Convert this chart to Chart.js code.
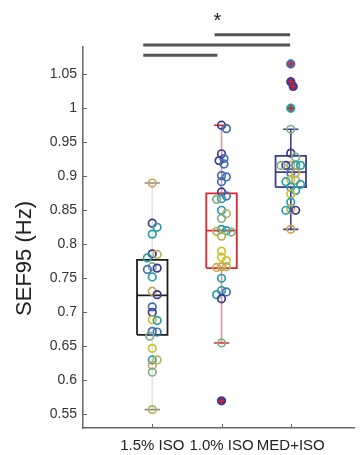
<!DOCTYPE html>
<html>
<head>
<meta charset="utf-8">
<script src="https://cdn.jsdelivr.net/npm/chart.js@4.4.1/dist/chart.umd.min.js"></script>
<style>
  body { margin: 0; background: #fff; }
  canvas { display: block; }
</style>
</head>
<body>
<canvas id="sefChart" width="360" height="455"></canvas>
<script>
const groups = ['1.5% ISO', '1.0% ISO', 'MED+ISO'];
const yTicks = [0.55, 0.6, 0.65, 0.7, 0.75, 0.8, 0.85, 0.9, 0.95, 1, 1.05];

// SEF95 per animal, one list per condition
const iso15 = [0.89, 0.831, 0.825, 0.815, 0.786, 0.785, 0.78, 0.767, 0.765, 0.763, 0.752,
  0.731, 0.726, 0.708, 0.70, 0.689, 0.688, 0.672, 0.671, 0.665, 0.647, 0.63, 0.63, 0.622, 0.612, 0.557];
const iso10 = [0.975, 0.97, 0.933, 0.926, 0.923, 0.918, 0.901, 0.899, 0.892, 0.877, 0.871, 0.867,
  0.866, 0.85, 0.845, 0.838, 0.822, 0.82, 0.819, 0.818, 0.812, 0.79, 0.781, 0.776, 0.767, 0.767,
  0.766, 0.75, 0.732, 0.73, 0.726, 0.72, 0.655, 0.57];
const medIso = [1.065, 1.039, 1.032, 1.0, 0.969, 0.934, 0.928, 0.916, 0.916, 0.916, 0.916, 0.916,
  0.905, 0.905, 0.895, 0.894, 0.892, 0.888, 0.884, 0.879, 0.874, 0.862, 0.852, 0.85, 0.85, 0.822];

// box statistics per condition
const boxQ1 = [0.667, 0.765, 0.884];
const boxMedian = [0.725, 0.82, 0.906];
const boxQ3 = [0.777, 0.875, 0.93];
const whiskerLow = [0.557, 0.655, 0.822];
const whiskerHigh = [0.89, 0.975, 0.969];

// colour key per point (same order as the values)
const palette = {
  n: '#3d3a8e', b: '#3f71b2', t: '#2b9fa7', g: '#80ac88',
  o: '#b4b45c', y: '#d0c12e', d: '#cfa552'
};
const iso15Keys = 'dnttnotgnbtdnbnytbbgytodgo';
const iso10Keys = 'nbnbnbbbbnbtgtogttogoyyydodttbtngn';
const medIsoKeys = 'bnntgngdtntgbdyottttytdntd';

const boxColors = ['#1e1e1e', '#e0242c', '#3c3f8a'];
const whiskerColors = ['#e2e2e2', '#d29c9c', '#3c3f8a'];
const capColors = ['#8c8c8c', '#e0242c', '#3c3f8a'];

const X_PX = 71, Y_PX = 680;      // approx. pixels per unit on each axis
const HALF_BOX = 0.22, HALF_CAP = 0.11;

// simple beeswarm so the circles don't pile up
function swarm(values, center) {
  const placed = [];
  return values.map(v => {
    const py = v * Y_PX;
    let off = 0;
    for (let k = 0; k < 30; k++) {
      off = (k % 2 ? 1 : -1) * Math.ceil(k / 2) * 2.5;
      if (placed.every(p => Math.hypot(p.x - off, p.y - py) >= 5)) break;
    }
    placed.push({ x: off, y: py });
    return { x: center + off / X_PX, y: v };
  });
}

const series = [iso15, iso10, medIso];
const keys = [iso15Keys, iso10Keys, medIsoKeys];

const pointSets = [], crossSets = [], lineSets = [];
series.forEach((vals, i) => {
  const cx = i + 1;
  const pts = swarm(vals, cx);
  const cols = vals.map((v, j) => palette[keys[i][j]] || palette.t);
  const isOut = vals.map(v => v > whiskerHigh[i] + 1e-9 || v < whiskerLow[i] - 1e-9);
  pointSets.push({
    data: pts,
    pointRadius: 3.8,
    pointBorderWidth: 1.7,
    pointBorderColor: cols,
    pointBackgroundColor: cols.map((c, j) => isOut[j] ? c : 'rgba(255,255,255,0)'),
    pointHoverRadius: 3.8
  });
  const outPts = pts.filter((p, j) => isOut[j]);
  if (outPts.length) {
    crossSets.push({
      data: outPts,
      pointStyle: 'cross',
      pointRadius: 3.2,
      pointBorderWidth: 1.3,
      pointBorderColor: '#ee1c24',
      pointBackgroundColor: '#ee1c24'
    });
  }
  const line = (data, color, width) => ({
    data, showLine: true, spanGaps: false, borderColor: color, borderWidth: width,
    pointRadius: 0, pointHoverRadius: 0
  });
  // box + median
  lineSets.push(line([
    { x: cx - HALF_BOX, y: boxQ1[i] }, { x: cx + HALF_BOX, y: boxQ1[i] },
    { x: cx + HALF_BOX, y: boxQ3[i] }, { x: cx - HALF_BOX, y: boxQ3[i] },
    { x: cx - HALF_BOX, y: boxQ1[i] }, { x: cx, y: null },
    { x: cx - HALF_BOX, y: boxMedian[i] }, { x: cx + HALF_BOX, y: boxMedian[i] }
  ], boxColors[i], 1.8));
  // caps
  lineSets.push(line([
    { x: cx - HALF_CAP, y: whiskerLow[i] }, { x: cx + HALF_CAP, y: whiskerLow[i] }, { x: cx, y: null },
    { x: cx - HALF_CAP, y: whiskerHigh[i] }, { x: cx + HALF_CAP, y: whiskerHigh[i] }
  ], capColors[i], 1.6));
  // whiskers
  lineSets.push(line([
    { x: cx, y: whiskerLow[i] }, { x: cx, y: boxQ1[i] }, { x: cx, y: null },
    { x: cx, y: boxQ3[i] }, { x: cx, y: whiskerHigh[i] }
  ], whiskerColors[i], 1.6));
});

const FONT = 'Liberation Sans, Arial, sans-serif';

// inward tick marks, significance bars and the y title
const extras = {
  id: 'extras',
  afterDraw(chart) {
    const { ctx, chartArea: a, scales: { x, y } } = chart;
    ctx.save();
    ctx.strokeStyle = '#666';
    ctx.lineWidth = 1;
    y.ticks.forEach(t => {
      const py = Math.round(y.getPixelForValue(t.value)) + 0.5;
      ctx.beginPath(); ctx.moveTo(a.left, py); ctx.lineTo(a.left + 4, py); ctx.stroke();
    });
    x.ticks.forEach(t => {
      const px = Math.round(x.getPixelForValue(t.value)) + 0.5;
      ctx.beginPath(); ctx.moveTo(px, a.bottom); ctx.lineTo(px, a.bottom - 4); ctx.stroke();
    });

    // significance brackets
    ctx.strokeStyle = '#555';
    ctx.lineWidth = 3;
    const bars = [[0.87, 1.94, 1.078], [0.87, 2.99, 1.093], [1.9, 2.99, 1.108]];
    bars.forEach(([x0, x1, yv]) => {
      const py = y.getPixelForValue(yv);
      ctx.beginPath(); ctx.moveTo(x.getPixelForValue(x0), py); ctx.lineTo(x.getPixelForValue(x1), py); ctx.stroke();
    });
    ctx.fillStyle = '#222';
    ctx.font = '20px ' + FONT;
    ctx.textAlign = 'center';
    ctx.textBaseline = 'middle';
    ctx.fillText('*', x.getPixelForValue(1.94), y.getPixelForValue(1.128));

    // y axis title
    ctx.translate(25, (a.top + a.bottom) / 2 + 21);
    ctx.rotate(-Math.PI / 2);
    ctx.fillStyle = '#222';
    ctx.font = '22px ' + FONT;
    ctx.fillText('SEF95 (Hz)', 0, 0);
    ctx.restore();
  }
};

new Chart(document.getElementById('sefChart'), {
  type: 'scatter',
  data: { datasets: [...crossSets, ...pointSets, ...lineSets] },
  options: {
    responsive: false,
    animation: false,
    devicePixelRatio: 1,
    layout: { padding: { top: 47, left: 0, right: 0, bottom: 0 } },
    plugins: { legend: { display: false }, tooltip: { enabled: false } },
    scales: {
      x: {
        type: 'linear',
        min: 0,
        max: 3.92,
        afterBuildTicks: s => { s.ticks = groups.map((g, i) => ({ value: i + 1 })); },
        afterFit: s => { s.height = 27; },
        grid: { drawOnChartArea: false, drawTicks: false },
        border: { display: true, color: '#666', width: 1.5 },
        ticks: {
          padding: 9,
          color: '#222',
          font: { family: FONT, size: 15 },
          maxRotation: 0,
          autoSkip: false,
          callback: v => groups[Math.round(v) - 1]
        }
      },
      y: {
        min: 0.53,
        max: 1.09,
        afterBuildTicks: s => { s.ticks = yTicks.map(v => ({ value: v })); },
        afterFit: s => { s.width = 83; },
        grid: { drawOnChartArea: false, drawTicks: false },
        border: { display: true, color: '#666', width: 1.5 },
        ticks: {
          padding: 6,
          color: '#333',
          font: { family: FONT, size: 14 },
          autoSkip: false,
          callback: v => String(Number(v.toFixed(2)))
        }
      }
    }
  },
  plugins: [extras]
});
</script>
</body>
</html>
